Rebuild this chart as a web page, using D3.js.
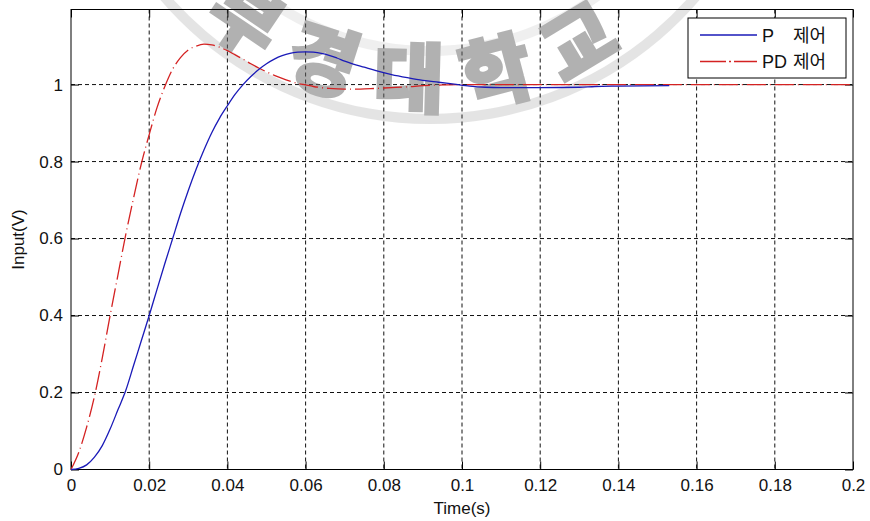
<!DOCTYPE html>
<html>
<head>
<meta charset="utf-8">
<script src="https://cdn.jsdelivr.net/npm/d3@7"></script>
<style>
	body { margin: 0; background: #fff; }
	svg { display: block; }
</style>
</head>
<body>
<div id="diagram"></div>
<script>
// time (s) and output for P control
const pTime = [0, 0.002, 0.004, 0.006, 0.008, 0.010, 0.012, 0.014, 0.016, 0.018, 0.020, 0.022, 0.024, 0.026, 0.028, 0.030,
	0.032, 0.034, 0.036, 0.038, 0.040, 0.042, 0.044, 0.046, 0.048, 0.050, 0.052, 0.054, 0.056, 0.058, 0.060, 0.062,
	0.064, 0.066, 0.068, 0.070, 0.072, 0.075, 0.078, 0.082, 0.086, 0.090, 0.094, 0.098, 0.102, 0.106, 0.110, 0.120, 0.130,
	0.134, 0.140, 0.153];
const pValue = [0, 0.003, 0.012, 0.032, 0.062, 0.105, 0.155, 0.205, 0.27, 0.335, 0.40, 0.468, 0.535, 0.60, 0.665, 0.725,
	0.78, 0.83, 0.875, 0.913, 0.945, 0.975, 1.0, 1.021, 1.039, 1.054, 1.066, 1.075, 1.081, 1.084, 1.085, 1.084,
	1.081, 1.076, 1.069, 1.061, 1.054, 1.045, 1.036, 1.026, 1.018, 1.011, 1.006, 1.001, 0.996, 0.993, 0.992, 0.992, 0.993,
	0.995, 0.996, 0.997];

// time (s) and output for PD control
const pdTime = [0, 0.002, 0.004, 0.006, 0.008, 0.010, 0.012, 0.014, 0.016, 0.018, 0.020, 0.022, 0.024, 0.026, 0.028, 0.030,
	0.032, 0.034, 0.036, 0.038, 0.040, 0.042, 0.044, 0.046, 0.048, 0.050, 0.052, 0.054, 0.056, 0.058, 0.060, 0.062,
	0.064, 0.066, 0.070, 0.074, 0.078, 0.082, 0.086, 0.090, 0.095, 0.100, 0.150, 0.200];
const pdValue = [0, 0.045, 0.11, 0.19, 0.29, 0.40, 0.505, 0.61, 0.705, 0.795, 0.87, 0.94, 0.995, 1.04, 1.07, 1.09,
	1.10, 1.105, 1.103, 1.097, 1.088, 1.077, 1.066, 1.054, 1.043, 1.033, 1.024, 1.016, 1.009, 1.003, 0.999, 0.995,
	0.992, 0.990, 0.988, 0.988, 0.990, 0.992, 0.994, 0.997, 0.999, 1.0, 1.0, 1.0];

const xTicks = [0, 0.02, 0.04, 0.06, 0.08, 0.1, 0.12, 0.14, 0.16, 0.18, 0.2];
const yTicks = [0, 0.2, 0.4, 0.6, 0.8, 1];
const legendLabels = ["P", "PD"];
const legendSuffix = "제어";
const xLabel = "Time(s)";
const yLabel = "Input(V)";
const watermark = "부경대학교";

const width = 870;
const height = 521;
const margin = {left: 71, top: 9.5, right: 17, bottom: 51.5};
const font = "'Liberation Sans', Arial, sans-serif";

function fmt(d) {
	return String(+d.toFixed(2));
}

function chart() {
	const w = width - margin.left - margin.right;
	const h = height - margin.top - margin.bottom;

	const xScale = d3.scaleLinear()
		.domain([0, 0.2])
		.range([0, w]);

	const yScale = d3.scaleLinear()
		.domain([0, 1.195])
		.range([h, 0]);

	const svg = d3.select("#diagram")
		.append("svg")
		.attr("width", width)
		.attr("height", height);

	const g = svg.append("g")
		.attr("transform", `translate(${margin.left},${margin.top})`);

	// dotted grid
	g.selectAll("line.gx")
		.data(xTicks.slice(1, -1))
		.enter()
		.append("line")
		.attr("x1", d => xScale(d))
		.attr("x2", d => xScale(d))
		.attr("y1", 0)
		.attr("y2", h)
		.attr("stroke", "#111")
		.attr("stroke-dasharray", "4,3");

	g.selectAll("line.gy")
		.data(yTicks.slice(1))
		.enter()
		.append("line")
		.attr("x1", 0)
		.attr("x2", w)
		.attr("y1", d => yScale(d))
		.attr("y2", d => yScale(d))
		.attr("stroke", "#111")
		.attr("stroke-dasharray", "4,3");

	// watermark seal
	const cx = 430 - margin.left, cy = -231 - margin.top;
	const wm = g.append("g").attr("opacity", 0.5);
	[[282, 0.2], [350, 0.35]].forEach(r => {
		wm.append("path")
			.attr("d", d3.arc()({innerRadius: r[0] - 5, outerRadius: r[0] + 5, startAngle: Math.PI * 0.55, endAngle: Math.PI * 1.45}))
			.attr("transform", `translate(${cx},${cy})`)
			.attr("fill", "#666")
			.attr("opacity", r[1]);
	});
	const rb = 338;
	const a0 = 152 * Math.PI / 180, a1 = 31 * Math.PI / 180;
	svg.append("defs").append("path")
		.attr("id", "wmArc")
		.attr("d", `M${cx + rb * Math.cos(a0)},${cy + rb * Math.sin(a0)} A${rb},${rb} 0 0 0 ${cx + rb * Math.cos(a1)},${cy + rb * Math.sin(a1)}`);
	wm.append("text")
		.attr("font-family", "'Noto Sans CJK KR', sans-serif")
		.attr("font-weight", 900)
		.attr("font-size", "76px")
		.attr("letter-spacing", "26px")
		.attr("fill", "#666")
		.attr("stroke", "#666")
		.attr("stroke-width", 3)
		.append("textPath")
		.attr("href", "#wmArc")
		.attr("startOffset", "50%")
		.attr("text-anchor", "middle")
		.attr("dx", 13)
		.text(watermark);

	// axes with inward ticks on all sides
	const axes = [
		[d3.axisBottom(xScale).tickValues(xTicks).tickFormat(fmt).tickPadding(9.5), `translate(0,${h})`],
		[d3.axisTop(xScale).tickValues(xTicks).tickFormat(""), "translate(0,0)"],
		[d3.axisLeft(yScale).tickValues(yTicks).tickFormat(fmt).tickPadding(8), "translate(0,0)"],
		[d3.axisRight(yScale).tickValues(yTicks).tickFormat(""), `translate(${w},0)`]
	];
	axes.forEach(a => {
		const ax = g.append("g")
			.attr("transform", a[1])
			.call(a[0].tickSizeInner(-8).tickSizeOuter(0));
		ax.select(".domain").remove();
		ax.selectAll("line").attr("stroke", "#000");
		ax.selectAll("text")
			.attr("font-family", font)
			.attr("font-size", "17px")
			.attr("fill", "#111");
	});

	g.append("rect")
		.attr("width", w)
		.attr("height", h)
		.attr("fill", "none")
		.attr("stroke", "#000");

	const line = d3.line()
		.x(d => xScale(d[0]))
		.y(d => yScale(d[1]))
		.curve(d3.curveMonotoneX);

	g.append("path")
		.datum(pdTime.map((t, i) => [t, pdValue[i]]))
		.attr("d", line)
		.attr("fill", "none")
		.attr("stroke", "#d42222")
		.attr("stroke-width", 1.3)
		.attr("stroke-dasharray", "19,4,1,4");

	g.append("path")
		.datum(pTime.map((t, i) => [t, pValue[i]]))
		.attr("d", line)
		.attr("fill", "none")
		.attr("stroke", "#1a1ab8")
		.attr("stroke-width", 1.3);

	// axis titles
	svg.append("text")
		.text(xLabel)
		.attr("x", margin.left + w / 2)
		.attr("y", 514)
		.attr("text-anchor", "middle")
		.attr("font-family", font)
		.attr("font-size", "17px")
		.attr("fill", "#111");

	svg.append("text")
		.text(yLabel)
		.attr("transform", `translate(24,${margin.top + h / 2}) rotate(-90)`)
		.attr("text-anchor", "middle")
		.attr("font-family", font)
		.attr("font-size", "17px")
		.attr("fill", "#111");

	// legend
	const lg = svg.append("g");
	lg.append("rect")
		.attr("x", 688)
		.attr("y", 18)
		.attr("width", 158)
		.attr("height", 60)
		.attr("fill", "#fff")
		.attr("stroke", "#000");

	const styles = [
		{color: "#1a1ab8", dash: null},
		{color: "#d42222", dash: "26,3,2,3"}
	];
	const rows = lg.selectAll("g.row")
		.data(legendLabels)
		.enter()
		.append("g")
		.attr("transform", (d, i) => `translate(0,${35 + i * 26.5})`);

	rows.append("line")
		.attr("x1", 700)
		.attr("x2", 757)
		.attr("stroke", (d, i) => styles[i].color)
		.attr("stroke-width", 1.3)
		.attr("stroke-dasharray", (d, i) => styles[i].dash);

	const lt = rows.append("text")
		.attr("y", 6.5)
		.attr("font-size", "18px")
		.attr("fill", "#111");
	lt.append("tspan")
		.attr("x", 762)
		.attr("font-family", font)
		.text(d => d);
	lt.append("tspan")
		.attr("x", 793)
		.attr("font-family", "'Noto Sans CJK KR', sans-serif")
		.text(legendSuffix);
}

function main() {
	chart();
}

main();
</script>
</body>
</html>
